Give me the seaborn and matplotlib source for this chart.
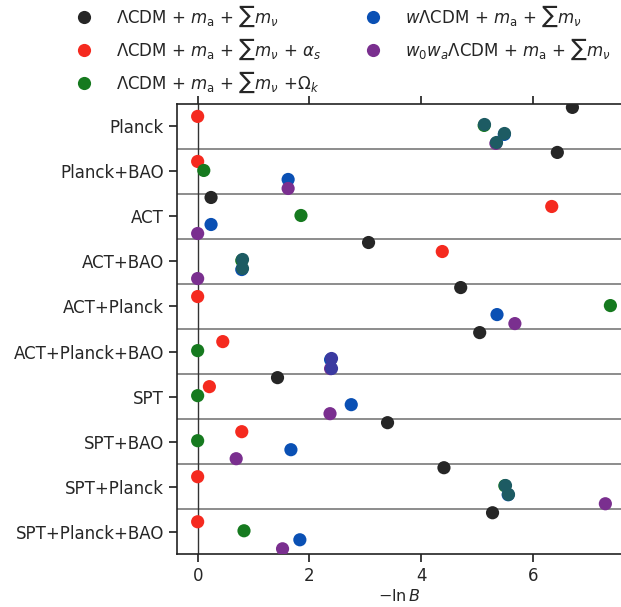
import matplotlib
matplotlib.use("Agg")
import matplotlib.pyplot as plt
import numpy as np
import pandas as pd
import seaborn as sns

# datasets, top to bottom
datasets = ["Planck", "Planck+BAO", "ACT", "ACT+BAO", "ACT+Planck",
            "ACT+Planck+BAO", "SPT", "SPT+BAO", "SPT+Planck", "SPT+Planck+BAO"]

models = [
    r"$\Lambda$CDM + $m_{\rm a}$ + $\sum m_\nu$",
    r"$\Lambda$CDM + $m_{\rm a}$ + $\sum m_\nu$ + $\alpha_s$",
    r"$\Lambda$CDM + $m_{\rm a}$ + $\sum m_\nu$ +$\Omega_k$",
    r"$w\Lambda$CDM + $m_{\rm a}$ + $\sum m_\nu$",
    r"$w_0w_a\Lambda$CDM + $m_{\rm a}$ + $\sum m_\nu$",
]

# -ln B per dataset, one list per model
lcdm = [6.71, 6.44, 0.24, 3.06, 4.71, 5.05, 1.43, 3.40, 4.41, 5.28]
lcdm_as = [0.0, 0.0, 6.34, 4.38, 0.0, 0.45, 0.21, 0.79, 0.0, 0.0]
lcdm_ok = [5.13, 0.11, 1.85, 0.79, 7.39, 0.0, 0.0, 0.0, 5.50, 0.83]
wcdm = [5.49, 1.62, 0.24, 0.79, 5.36, 2.38, 2.75, 1.67, 5.56, 1.83]
w0wacdm = [5.34, 1.62, 0.0, 0.0, 5.68, 2.38, 2.37, 0.69, 7.30, 1.52]

palette = ["#262626", "#f52a1f", "#167a1f", "#0a50b4", "#7a2f8f"]
# points that came out in an overlap tint in the original figure
teal_points = [(0, 2), (0, 3), (0, 4), (3, 2), (3, 3), (8, 2), (8, 3)]
indigo_points = [(5, 3), (5, 4)]

rows = []
for k, vals in enumerate([lcdm, lcdm_as, lcdm_ok, wcdm, w0wacdm]):
    for i, v in enumerate(vals):
        rows.append({"dataset": i, "model": models[k], "k": k, "lnB": v})
df = pd.DataFrame(rows)
df["pos"] = df["dataset"] + (df["k"] - 2) * 0.2 - 0.02

sns.set_theme(style="ticks")
plt.rcParams["font.family"] = ["DejaVu Sans"]
plt.rcParams["mathtext.fontset"] = "dejavusans"

fig = plt.figure(figsize=(6.21, 6.07), dpi=100)
ax = fig.add_axes([0.285, 0.087, 0.715, 0.742])

for i in range(len(datasets) - 1):
    ax.axhline(i + 0.5, color="#8c8c8c", lw=1.4, zorder=1)
ax.axvline(0, color="#333333", lw=1.0, zorder=1)

sns.scatterplot(data=df, x="lnB", y="pos", hue="model", hue_order=models,
                palette=palette, s=90, linewidth=0, ax=ax, zorder=3)

over = df.set_index(["dataset", "k"])
for pts, col in [(teal_points, "#1d5b63"), (indigo_points, "#3b3aa0")]:
    sub = over.loc[pts].reset_index()
    ax.scatter(sub["lnB"], sub["pos"] - 0.025, color=col, s=90, lw=0, zorder=4)

ax.set_ylim(len(datasets) - 0.5, -0.5)
ax.set_xlim(-0.37, 7.58)
ax.set_yticks(range(len(datasets)))
ax.set_yticklabels(datasets, fontsize=12)
ax.set_xticks([0, 2, 4, 6])
ax.tick_params(axis="x", labelsize=12, top=True, labeltop=False)
ax.set_xlabel(r"$-\ln B$", fontsize=11.5, labelpad=2)
ax.set_ylabel("")
ax.spines["right"].set_visible(False)
for s in ["left", "bottom", "top"]:
    ax.spines[s].set_color("#222222")
    ax.spines[s].set_linewidth(1.2)

handles, labels = ax.get_legend_handles_labels()
ax.get_legend().remove()
fig.legend(handles, labels, loc="upper left", bbox_to_anchor=(0.085, 1.018),
           ncol=2, frameon=False, fontsize=12, handletextpad=0.9,
           columnspacing=2.1, labelspacing=0.45, markerscale=1.0)

fig.savefig("out.png", dpi=100)
